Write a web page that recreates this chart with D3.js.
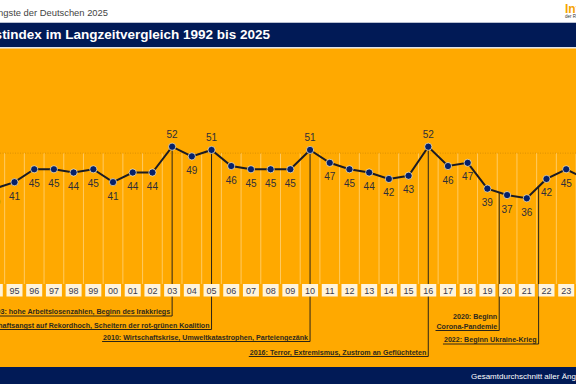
<!DOCTYPE html>
<html>
<head>
<meta charset="utf-8">
<style>
body { margin:0; background:#fff; }
svg { display:block; font-family:"Liberation Sans", Arial, sans-serif; }
.val { font-size:10px; fill:#2e2e3a; text-anchor:middle; }
.tick text { font-size:9px; fill:#3a3a4c; text-anchor:middle; }
.note { font-size:7.1px; font-weight:bold; fill:#2e2a1e; text-anchor:end; }
</style>
</head>
<body>
<svg width="576" height="384"></svg>
<script src="https://cdn.jsdelivr.net/npm/d3@7"></script>
<script>
// Angstindex, sichtbarer Ausschnitt 1994 - 2024
var years  = [1994,1995,1996,1997,1998,1999,2000,2001,2002,2003,2004,2005,2006,2007,2008,2009,
              2010,2011,2012,2013,2014,2015,2016,2017,2018,2019,2020,2021,2022,2023,2024];
var values = [39,41,45,45,44,45,41,44,44,52,49,51,46,45,45,45,
              51,47,45,44,42,43,52,46,47,39,37,36,42,45,42];
var tickLabels = ["94","95","96","97","98","99","00","01","02","03","04","05","06","07","08","09",
                  "10","11","12","13","14","15","16","17","18","19","20","21","22","23","24"];
var labelAbove = [2003, 2005, 2010, 2016];

var eventYears = [2003, 2005, 2010, 2016, 2020, 2022];
var eventTexts = [
  ["2003: hohe Arbeitslosenzahlen, Beginn des Irakkriegs"],
  ["2005: Wirtschaftsangst auf Rekordhoch, Scheitern der rot-grünen Koalition"],
  ["2010: Wirtschaftskrise, Umweltkatastrophen, Parteiengezänk"],
  ["2016: Terror, Extremismus, Zustrom an Geflüchteten"],
  ["2020: Beginn", "Corona-Pandemie"],
  ["2022: Beginn Ukraine-Krieg"]
];

var svg = d3.select("svg");
var navy = "#011a56", orange = "#ffa900";

var x = d3.scaleLinear().domain([1995, 2023]).range([14.5, 566.2]);
var step = x(1996) - x(1995);
var y = d3.scaleLinear().domain([36, 52]).range([198.3, 146.7]);

// header
svg.append("text").attr("x", 108).attr("y", 16).attr("text-anchor", "end")
  .style("font-size", "9.4px").style("fill", "#444").text("Die Ängste der Deutschen 2025");
svg.append("text").attr("x", 565).attr("y", 12.8)
  .style("font-size", "12px").style("font-weight", "bold").style("fill", "#f6a400").text("Infocenter");
svg.append("text").attr("x", 565).attr("y", 18.2)
  .style("font-size", "4.5px").style("fill", "#333").text("der R+V");

svg.append("rect").attr("x", 0).attr("y", 22).attr("width", 576).attr("height", 1).attr("fill", "#b9c0d0");
svg.append("rect").attr("x", 0).attr("y", 23).attr("width", 576).attr("height", 24).attr("fill", navy);
svg.append("rect").attr("x", 0).attr("y", 47).attr("width", 576).attr("height", 1.5).attr("fill", "#dfe2ea");
svg.append("text").attr("x", 270).attr("y", 38.5).attr("text-anchor", "end")
  .style("font-size", "13.5px").style("font-weight", "bold").style("fill", "#fff")
  .text("Angstindex im Langzeitvergleich 1992 bis 2025");

// orange panel
svg.append("rect").attr("x", 0).attr("y", 48.5).attr("width", 576).attr("height", 318.5).attr("fill", orange);

// column separators + reference line
var g = svg.append("g");
g.selectAll(".sep").data(years).enter().append("line")
  .attr("class", "sep")
  .attr("x1", function(d) { return x(d) + step / 2; })
  .attr("x2", function(d) { return x(d) + step / 2; })
  .attr("y1", y(50)).attr("y2", 284)
  .attr("stroke", "#ffd37a").attr("stroke-width", 0.8);

g.append("line").attr("x1", 0).attr("x2", 576).attr("y1", y(50)).attr("y2", y(50))
  .attr("stroke", "#d38c00").attr("stroke-width", 0.8).attr("stroke-dasharray", "1,1.5");

// event lines and notes
var rows = [316, 329.5, 341.5, 356.5, 330.5, 344];
eventYears.forEach(function(yr, i) {
  var idx = years.indexOf(yr);
  var lx, ly;
  if (yr >= 2020) {
    // line sits left of the point, starting on the polyline
    lx = x(yr - 0.4);
    ly = y(values[idx - 1] + (values[idx] - values[idx - 1]) * 0.6);
  } else {
    lx = x(yr);
    ly = y(values[idx]);
  }
  var base = rows[i];
  g.append("line").attr("x1", lx).attr("x2", lx).attr("y1", ly).attr("y2", base)
    .attr("stroke", "#2a2418").attr("stroke-width", 1);

  var lines = eventTexts[i];
  var minX = lx;
  lines.forEach(function(t, k) {
    var tx = g.append("text").attr("class", "note")
      .attr("x", lx - 2)
      .attr("y", base - 2 - (lines.length - 1 - k) * 9.3)
      .text(t);
    var w = tx.node().getComputedTextLength();
    if (k == lines.length - 1) minX = Math.min(minX, lx - 2 - w - 1);
  });
  g.append("line").attr("x1", minX).attr("x2", lx).attr("y1", base).attr("y2", base)
    .attr("stroke", "#2a2418").attr("stroke-width", 1);
});

// x ticks as boxes
var ticks = g.selectAll(".tick").data(years).enter().append("g")
  .attr("class", "tick")
  .attr("transform", function(d) { return "translate(" + x(d) + ",0)"; });
ticks.append("rect").attr("x", -8).attr("y", 284).attr("width", 16).attr("height", 12.5)
  .attr("fill", "#fff4dc");
ticks.append("text").attr("y", 293.6).text(function(d, i) { return tickLabels[i]; });

// series
var pts = years.map(function(d, i) { return {year: d, v: values[i]}; });
g.append("path").datum(pts)
  .attr("d", d3.line().x(function(d) { return x(d.year); }).y(function(d) { return y(d.v); }))
  .attr("fill", "none").attr("stroke", "#1b1b24").attr("stroke-width", 2);

g.selectAll(".dot").data(pts).enter().append("circle")
  .attr("class", "dot")
  .attr("cx", function(d) { return x(d.year); })
  .attr("cy", function(d) { return y(d.v); })
  .attr("r", 3.6)
  .attr("fill", "#05206a").attr("stroke", "#fff0c8").attr("stroke-width", 0.7);

g.selectAll(".val").data(pts).enter().append("text")
  .attr("class", "val")
  .attr("x", function(d) { return x(d.year); })
  .attr("y", function(d) {
    return labelAbove.indexOf(d.year) >= 0 ? y(d.v) - 9 : y(d.v) + 17.5;
  })
  .text(function(d) { return d.v; });

// footer
svg.append("rect").attr("x", 0).attr("y", 367).attr("width", 576).attr("height", 17).attr("fill", navy);
svg.append("text").attr("x", 471).attr("y", 378.5)
  .style("font-size", "8px").style("fill", "#fff").text("Gesamtdurchschnitt aller Ängste");
</script>
</body>
</html>
